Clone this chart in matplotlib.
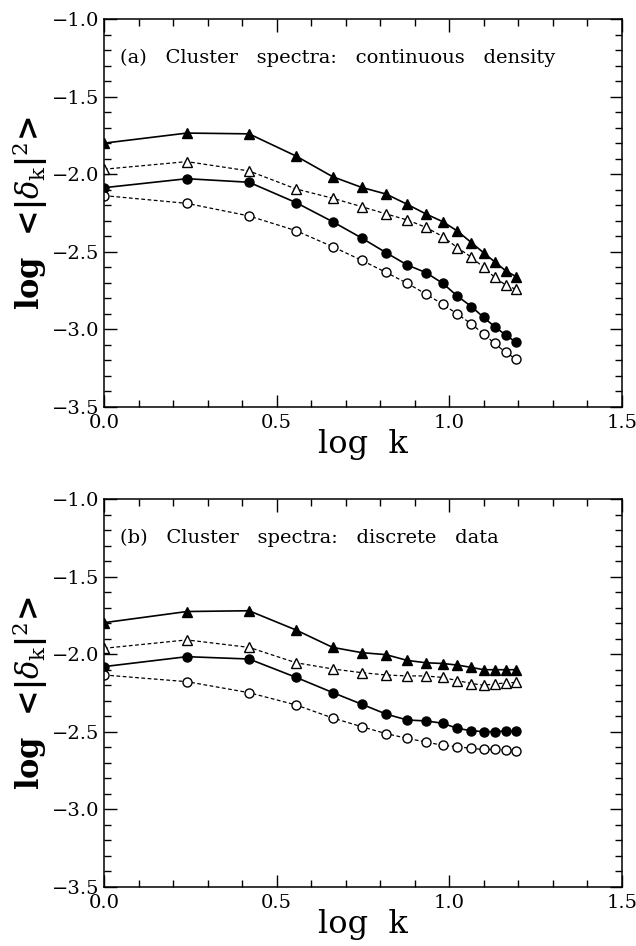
import numpy as np
import matplotlib
matplotlib.use("Agg")
import matplotlib.pyplot as plt
from matplotlib.ticker import MultipleLocator

plt.rcParams['font.family'] = 'DejaVu Serif'
plt.rcParams['mathtext.fontset'] = 'dejavuserif'

# log k positions (shared by all curves)
log_k = [0.0, 0.24, 0.42, 0.556, 0.662, 0.746, 0.817, 0.878,
         0.932, 0.981, 1.023, 1.064, 1.099, 1.131, 1.163, 1.193]

# (a) continuous density
a_filled_tri = [-1.80, -1.735, -1.74, -1.883, -2.016, -2.085, -2.128, -2.194,
                -2.256, -2.306, -2.366, -2.441, -2.506, -2.564, -2.622, -2.660]
a_open_tri = [-1.968, -1.919, -1.979, -2.095, -2.155, -2.209, -2.256, -2.295,
              -2.342, -2.402, -2.473, -2.535, -2.600, -2.664, -2.714, -2.742]
a_filled_circ = [-2.087, -2.029, -2.052, -2.183, -2.306, -2.411, -2.506, -2.585,
                 -2.634, -2.703, -2.785, -2.853, -2.922, -2.982, -3.036, -3.083]
a_open_circ = [-2.138, -2.188, -2.269, -2.364, -2.467, -2.555, -2.633, -2.703,
               -2.772, -2.838, -2.901, -2.965, -3.030, -3.090, -3.148, -3.191]

# (b) discrete data
b_filled_tri = [-1.797, -1.725, -1.72, -1.844, -1.956, -1.990, -2.003, -2.040,
                -2.055, -2.060, -2.070, -2.085, -2.100, -2.100, -2.100, -2.100]
b_open_tri = [-1.962, -1.908, -1.956, -2.055, -2.095, -2.119, -2.134, -2.140,
              -2.140, -2.150, -2.170, -2.189, -2.200, -2.192, -2.185, -2.182]
b_filled_circ = [-2.080, -2.016, -2.031, -2.149, -2.247, -2.322, -2.386, -2.424,
                 -2.430, -2.445, -2.478, -2.493, -2.499, -2.499, -2.495, -2.495]
b_open_circ = [-2.134, -2.177, -2.248, -2.327, -2.411, -2.467, -2.512, -2.542,
               -2.566, -2.587, -2.596, -2.607, -2.614, -2.614, -2.617, -2.622]

panels = [
    ("(a)   Cluster   spectra:   continuous   density",
     a_filled_tri, a_open_tri, a_filled_circ, a_open_circ),
    ("(b)   Cluster   spectra:   discrete   data",
     b_filled_tri, b_open_tri, b_filled_circ, b_open_circ),
]

fig = plt.figure(figsize=(6.36, 9.46), dpi=100)
rects = [[0.1635, 0.5698, 0.8145, 0.4101], [0.1635, 0.0624, 0.8145, 0.4101]]

for rect, (title, ftri, otri, fcirc, ocirc) in zip(rects, panels):
    ax = fig.add_axes(rect)
    ax.plot(log_k, ftri, '-', color='black', lw=1.2, marker='^', ms=7,
            mfc='black', mec='black')
    ax.plot(log_k, otri, '--', color='black', lw=0.9, marker='^', ms=7,
            mfc='white', mec='black', mew=1.0, dashes=(3, 2))
    ax.plot(log_k, fcirc, '-', color='black', lw=1.2, marker='o', ms=6.5,
            mfc='black', mec='black')
    ax.plot(log_k, ocirc, '--', color='black', lw=0.9, marker='o', ms=6.5,
            mfc='white', mec='black', mew=1.0, dashes=(3, 2))

    ax.set_xlim(0, 1.5)
    ax.set_ylim(-3.5, -1.0)
    ax.xaxis.set_major_locator(MultipleLocator(0.5))
    ax.xaxis.set_minor_locator(MultipleLocator(0.1))
    ax.yaxis.set_major_locator(MultipleLocator(0.5))
    ax.yaxis.set_minor_locator(MultipleLocator(0.1))
    ax.tick_params(which='both', direction='in', top=True, right=True,
                   labelsize=14, width=1.0)
    ax.tick_params(which='major', length=9)
    ax.tick_params(which='minor', length=5)
    ax.tick_params(axis='x', pad=5)
    ax.tick_params(axis='y', pad=3)
    for s in ax.spines.values():
        s.set_linewidth(1.1)

    ax.text(0.045, -1.25, title, fontsize=14, va='center', ha='left')
    ax.set_xlabel('log  k', fontsize=23, labelpad=-2)
    ax.set_ylabel(r'log  <|$\delta_{\rm k}$|$^2$>', fontsize=22,
                  fontweight='bold', labelpad=2)

fig.savefig('out.png', dpi=100)
